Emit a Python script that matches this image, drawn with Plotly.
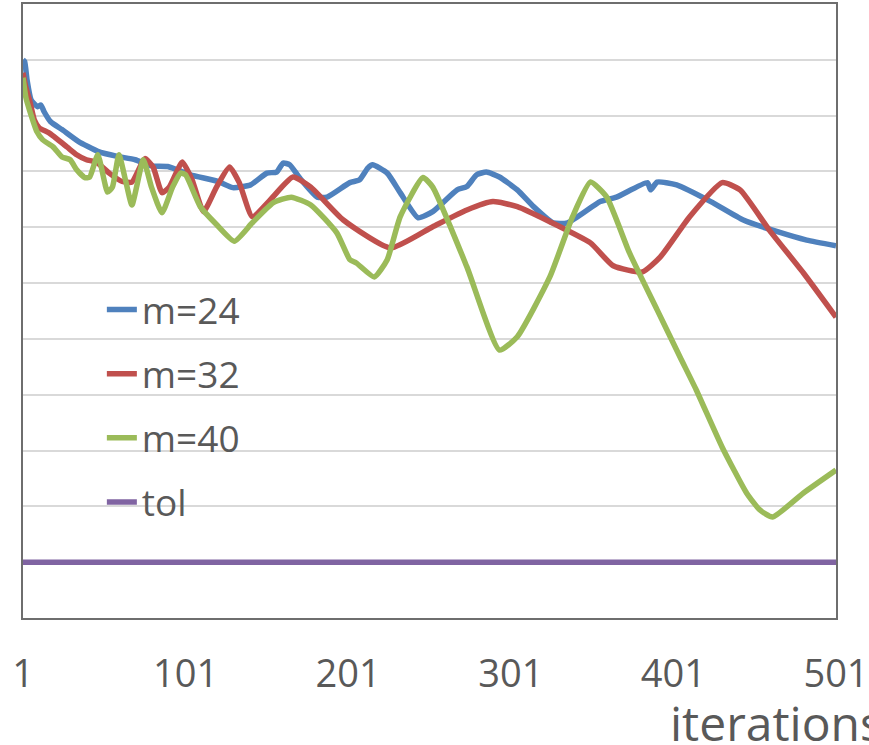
import plotly.graph_objects as go

# ---- data (iteration, value in gridline units) ----
m24_iter = [1, 2, 3.5, 6, 10, 12, 14, 18, 25, 35, 47, 59, 70, 80, 90, 104, 121, 130, 141, 151,
            157, 161, 165, 171, 182, 188, 202, 208, 213, 216, 225, 233, 244, 253, 268, 274,
            280, 286, 294, 305, 315, 327, 336, 356, 366, 385, 387, 391, 403, 424, 444, 465,
            483, 501]
m24_val = [10.0, 9.97, 9.64, 9.28, 9.16, 9.19, 9.07, 8.89, 8.75, 8.54, 8.36, 8.27, 8.21, 8.10,
           8.09, 7.94, 7.82, 7.71, 7.76, 7.97, 7.99, 8.15, 8.12, 7.89, 7.54, 7.54, 7.80, 7.85,
           8.06, 8.12, 7.97, 7.62, 7.17, 7.28, 7.67, 7.73, 7.94, 7.99, 7.90, 7.67, 7.37, 7.08,
           7.08, 7.46, 7.54, 7.80, 7.67, 7.81, 7.76, 7.46, 7.13, 6.92, 6.77, 6.67]

m32_iter = [1, 2.8, 5, 8, 11, 17, 28, 34, 40, 46, 54, 62, 68, 76, 81, 86.5, 91, 99, 105, 112,
            120, 128, 134, 142, 153, 167, 178, 198, 227, 253, 274, 290, 305, 325, 350, 364,
            382, 393, 411, 431, 442, 460, 481, 501]
m32_val = [9.77, 9.50, 9.28, 8.92, 8.78, 8.69, 8.44, 8.30, 8.21, 8.17, 7.97, 7.82, 7.81, 8.23,
           8.08, 7.62, 7.72, 8.17, 7.85, 7.28, 7.72, 8.08, 7.80, 7.19, 7.49, 7.90, 7.72, 7.13,
           6.63, 7.01, 7.31, 7.46, 7.37, 7.10, 6.72, 6.31, 6.20, 6.47, 7.19, 7.80, 7.67, 6.95,
           6.18, 5.39]

m40_iter = [1, 2.8, 5, 9.6, 13, 19.5, 25, 30, 34, 39, 42, 47, 53, 56, 60, 64, 68, 75, 80, 86.5,
            93, 98, 101, 110, 120, 131, 142, 155, 166, 178, 194, 202, 206, 217, 225, 233, 247,
            253, 274, 294, 305, 325, 339, 350, 360, 374, 391, 405, 415, 431, 446, 454, 462,
            481, 501]
m40_val = [9.68, 9.32, 9.10, 8.71, 8.57, 8.44, 8.26, 8.21, 8.03, 7.89, 7.90, 8.30, 7.63, 7.72,
           8.30, 7.85, 7.40, 8.21, 7.72, 7.26, 7.72, 7.97, 7.94, 7.37, 7.05, 6.75, 7.08, 7.44,
           7.54, 7.40, 6.90, 6.42, 6.36, 6.11, 6.42, 7.19, 7.89, 7.72, 6.29, 4.80, 5.04, 6.11,
           7.19, 7.81, 7.54, 6.54, 5.52, 4.68, 4.09, 3.06, 2.24, 1.94, 1.81, 2.24, 2.65]

tol_iter = [1, 501]
tol_val = [1.0, 1.0]

x_ticks = [1, 101, 201, 301, 401, 501]
x_tick_labels = ["1", "101", "201", "301", "401", "501"]

FONT = "Open Sans"
GREY = "#595959"

series = [
    ("m=24", m24_iter, m24_val, "#4F81BD"),
    ("m=32", m32_iter, m32_val, "#C0504D"),
    ("m=40", m40_iter, m40_val, "#9BBB59"),
    ("tol", tol_iter, tol_val, "#8064A2"),
]

fig = go.Figure()
for name, xs, ys, col in series:
    fig.add_trace(go.Scatter(
        x=xs, y=ys, name=name, mode="lines", legendgroup=name,
        line=dict(color=col, width=5.5, shape="spline", smoothing=0.5),
    ))

fig.update_layout(
    width=869, height=745,
    margin=dict(l=23, r=33, t=4, b=127, autoexpand=False),
    paper_bgcolor="white", plot_bgcolor="white",
    font=dict(family=FONT, color=GREY),
    showlegend=True,
    legend=dict(
        x=0.097, xanchor="left", y=0.552, yanchor="top",
        bgcolor="rgba(0,0,0,0)", font=dict(size=37, color=GREY, family=FONT),
        tracegroupgap=13, itemwidth=30,
    ),
    xaxis=dict(
        range=[1, 501], tickvals=x_ticks, ticktext=x_tick_labels,
        showgrid=False, zeroline=False, showline=True, mirror=True,
        linecolor="#6e6e6e", linewidth=1.5, ticks="", automargin=False,
        tickfont=dict(size=38, color=GREY, family=FONT),
        ticklabelstandoff=22,
    ),
    yaxis=dict(
        range=[0, 11], dtick=1, showticklabels=False, ticks="", automargin=False,
        showgrid=True, gridcolor="#d9d9d9", gridwidth=1.5, zeroline=False,
        showline=True, mirror=True, linecolor="#6e6e6e", linewidth=1.5,
    ),
    annotations=[dict(
        text="iterations", xref="paper", yref="paper", x=0.793, y=-0.171,
        xanchor="left", yanchor="middle", showarrow=False,
        font=dict(size=48, color=GREY, family=FONT),
    )],
)

fig.write_html(
    "out.html",
    config={"displayModeBar": False},
    post_script="document.body.style.margin='0';document.body.style.overflow='hidden';",
)
